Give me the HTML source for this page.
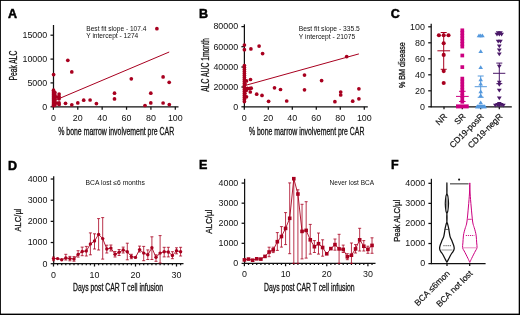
<!DOCTYPE html>
<html><head><meta charset="utf-8"><style>
html,body{margin:0;padding:0;background:#fff;}
svg{display:block;font-family:"Liberation Sans", sans-serif;will-change:transform;}
</style></head><body>
<svg width="520" height="315" viewBox="0 0 520 315">
<rect x="0" y="0" width="520" height="315" fill="#fff"/>
<text x="7.90" y="17.50" font-size="12.5" text-anchor="start" fill="#000" font-weight="bold" stroke="#000" stroke-width="0.5">A</text>
<line x1="53.50" y1="25.00" x2="53.50" y2="107.30" stroke="#111" stroke-width="1.25" />
<line x1="50.50" y1="35.20" x2="53.50" y2="35.20" stroke="#111" stroke-width="1.25" />
<text x="47.20" y="38.00" font-size="8.9" text-anchor="end" fill="#111" >15000</text>
<line x1="50.50" y1="59.10" x2="53.50" y2="59.10" stroke="#111" stroke-width="1.25" />
<text x="47.20" y="61.90" font-size="8.9" text-anchor="end" fill="#111" >10000</text>
<line x1="50.50" y1="82.90" x2="53.50" y2="82.90" stroke="#111" stroke-width="1.25" />
<text x="47.20" y="85.70" font-size="8.9" text-anchor="end" fill="#111" >5000</text>
<line x1="50.50" y1="106.80" x2="53.50" y2="106.80" stroke="#111" stroke-width="1.25" />
<text x="47.20" y="109.60" font-size="8.9" text-anchor="end" fill="#111" >0</text>
<line x1="53.00" y1="106.80" x2="178.50" y2="106.80" stroke="#111" stroke-width="1.25" />
<line x1="53.40" y1="106.80" x2="53.40" y2="109.80" stroke="#111" stroke-width="1.25" />
<text x="53.40" y="121.00" font-size="8.9" text-anchor="middle" fill="#111" >0</text>
<line x1="77.78" y1="106.80" x2="77.78" y2="109.80" stroke="#111" stroke-width="1.25" />
<text x="77.78" y="121.00" font-size="8.9" text-anchor="middle" fill="#111" >20</text>
<line x1="102.16" y1="106.80" x2="102.16" y2="109.80" stroke="#111" stroke-width="1.25" />
<text x="102.16" y="121.00" font-size="8.9" text-anchor="middle" fill="#111" >40</text>
<line x1="126.54" y1="106.80" x2="126.54" y2="109.80" stroke="#111" stroke-width="1.25" />
<text x="126.54" y="121.00" font-size="8.9" text-anchor="middle" fill="#111" >60</text>
<line x1="150.92" y1="106.80" x2="150.92" y2="109.80" stroke="#111" stroke-width="1.25" />
<text x="150.92" y="121.00" font-size="8.9" text-anchor="middle" fill="#111" >80</text>
<line x1="175.30" y1="106.80" x2="175.30" y2="109.80" stroke="#111" stroke-width="1.25" />
<text x="175.30" y="121.00" font-size="8.9" text-anchor="middle" fill="#111" >100</text>
<text x="0.00" y="0.00" font-size="10.2" text-anchor="middle" fill="#111" textLength="30.00" lengthAdjust="spacingAndGlyphs" transform="translate(16.60,65.50) rotate(-90)" stroke="#111" stroke-width="0.28">Peak ALC</text>
<text x="116.20" y="134.60" font-size="10" text-anchor="middle" fill="#111" textLength="116.00" lengthAdjust="spacingAndGlyphs" stroke="#111" stroke-width="0.28">% bone marrow involvement pre CAR</text>
<text x="86.30" y="30.60" font-size="6.6" text-anchor="start" fill="#111" >Best fit slope - 107.4</text>
<text x="86.30" y="38.40" font-size="6.6" text-anchor="start" fill="#111" >Y intercept - 1274</text>
<line x1="53.40" y1="101.00" x2="169.21" y2="52.00" stroke="#A8001F" stroke-width="1.0" />
<circle cx="156.90" cy="28.70" r="1.85" fill="#A8001F"/>
<circle cx="67.80" cy="60.30" r="1.85" fill="#A8001F"/>
<circle cx="71.80" cy="71.90" r="1.85" fill="#A8001F"/>
<circle cx="53.60" cy="74.60" r="1.85" fill="#A8001F"/>
<circle cx="131.30" cy="78.80" r="1.85" fill="#A8001F"/>
<circle cx="163.10" cy="76.90" r="1.85" fill="#A8001F"/>
<circle cx="169.20" cy="82.30" r="1.85" fill="#A8001F"/>
<circle cx="114.50" cy="93.20" r="1.85" fill="#A8001F"/>
<circle cx="114.50" cy="98.90" r="1.85" fill="#A8001F"/>
<circle cx="150.80" cy="93.20" r="1.85" fill="#A8001F"/>
<circle cx="150.80" cy="102.90" r="1.85" fill="#A8001F"/>
<circle cx="163.10" cy="103.00" r="1.85" fill="#A8001F"/>
<circle cx="169.30" cy="104.60" r="1.85" fill="#A8001F"/>
<circle cx="145.00" cy="105.50" r="1.85" fill="#A8001F"/>
<circle cx="96.40" cy="103.60" r="1.85" fill="#A8001F"/>
<circle cx="65.50" cy="103.30" r="1.85" fill="#A8001F"/>
<circle cx="71.80" cy="104.80" r="1.85" fill="#A8001F"/>
<circle cx="77.80" cy="102.90" r="1.85" fill="#A8001F"/>
<circle cx="83.70" cy="100.20" r="1.85" fill="#A8001F"/>
<circle cx="90.10" cy="100.00" r="1.85" fill="#A8001F"/>
<circle cx="53.50" cy="90.20" r="1.85" fill="#A8001F"/>
<circle cx="53.50" cy="92.00" r="1.85" fill="#A8001F"/>
<circle cx="53.50" cy="94.00" r="1.85" fill="#A8001F"/>
<circle cx="53.50" cy="96.00" r="1.85" fill="#A8001F"/>
<circle cx="53.50" cy="98.00" r="1.85" fill="#A8001F"/>
<circle cx="53.50" cy="100.00" r="1.85" fill="#A8001F"/>
<circle cx="53.50" cy="102.00" r="1.85" fill="#A8001F"/>
<circle cx="53.50" cy="104.00" r="1.85" fill="#A8001F"/>
<circle cx="53.50" cy="105.60" r="1.85" fill="#A8001F"/>
<circle cx="54.90" cy="92.50" r="1.85" fill="#A8001F"/>
<circle cx="54.90" cy="95.00" r="1.85" fill="#A8001F"/>
<circle cx="54.90" cy="97.50" r="1.85" fill="#A8001F"/>
<circle cx="54.90" cy="100.00" r="1.85" fill="#A8001F"/>
<circle cx="54.90" cy="102.50" r="1.85" fill="#A8001F"/>
<circle cx="54.90" cy="105.00" r="1.85" fill="#A8001F"/>
<circle cx="59.10" cy="94.10" r="1.85" fill="#A8001F"/>
<circle cx="59.10" cy="96.50" r="1.85" fill="#A8001F"/>
<circle cx="59.10" cy="98.80" r="1.85" fill="#A8001F"/>
<circle cx="59.10" cy="102.90" r="1.85" fill="#A8001F"/>
<circle cx="59.10" cy="104.50" r="1.85" fill="#A8001F"/>
<circle cx="56.80" cy="97.00" r="1.85" fill="#A8001F"/>
<circle cx="56.80" cy="103.00" r="1.85" fill="#A8001F"/>
<text x="198.90" y="17.50" font-size="12.5" text-anchor="start" fill="#000" font-weight="bold" stroke="#000" stroke-width="0.5">B</text>
<line x1="244.40" y1="24.30" x2="244.40" y2="107.30" stroke="#111" stroke-width="1.25" />
<line x1="241.40" y1="26.60" x2="244.40" y2="26.60" stroke="#111" stroke-width="1.25" />
<text x="238.10" y="29.40" font-size="8.9" text-anchor="end" fill="#111" >80000</text>
<line x1="241.40" y1="46.70" x2="244.40" y2="46.70" stroke="#111" stroke-width="1.25" />
<text x="238.10" y="49.50" font-size="8.9" text-anchor="end" fill="#111" >60000</text>
<line x1="241.40" y1="67.00" x2="244.40" y2="67.00" stroke="#111" stroke-width="1.25" />
<text x="238.10" y="69.80" font-size="8.9" text-anchor="end" fill="#111" >40000</text>
<line x1="241.40" y1="87.00" x2="244.40" y2="87.00" stroke="#111" stroke-width="1.25" />
<text x="238.10" y="89.80" font-size="8.9" text-anchor="end" fill="#111" >20000</text>
<line x1="241.40" y1="106.80" x2="244.40" y2="106.80" stroke="#111" stroke-width="1.25" />
<text x="238.10" y="109.60" font-size="8.9" text-anchor="end" fill="#111" >0</text>
<line x1="243.90" y1="106.80" x2="367.80" y2="106.80" stroke="#111" stroke-width="1.25" />
<line x1="244.30" y1="106.80" x2="244.30" y2="109.80" stroke="#111" stroke-width="1.25" />
<text x="244.30" y="121.00" font-size="8.9" text-anchor="middle" fill="#111" >0</text>
<line x1="268.30" y1="106.80" x2="268.30" y2="109.80" stroke="#111" stroke-width="1.25" />
<text x="268.30" y="121.00" font-size="8.9" text-anchor="middle" fill="#111" >20</text>
<line x1="292.30" y1="106.80" x2="292.30" y2="109.80" stroke="#111" stroke-width="1.25" />
<text x="292.30" y="121.00" font-size="8.9" text-anchor="middle" fill="#111" >40</text>
<line x1="316.30" y1="106.80" x2="316.30" y2="109.80" stroke="#111" stroke-width="1.25" />
<text x="316.30" y="121.00" font-size="8.9" text-anchor="middle" fill="#111" >60</text>
<line x1="340.30" y1="106.80" x2="340.30" y2="109.80" stroke="#111" stroke-width="1.25" />
<text x="340.30" y="121.00" font-size="8.9" text-anchor="middle" fill="#111" >80</text>
<line x1="364.30" y1="106.80" x2="364.30" y2="109.80" stroke="#111" stroke-width="1.25" />
<text x="364.30" y="121.00" font-size="8.9" text-anchor="middle" fill="#111" >100</text>
<text x="0.00" y="0.00" font-size="10.2" text-anchor="middle" fill="#111" textLength="53.30" lengthAdjust="spacingAndGlyphs" transform="translate(209.00,65.00) rotate(-90)" stroke="#111" stroke-width="0.28">ALC AUC 1month</text>
<text x="306.70" y="134.60" font-size="10" text-anchor="middle" fill="#111" textLength="115.50" lengthAdjust="spacingAndGlyphs" stroke="#111" stroke-width="0.28">% bone marrow involvement pre CAR</text>
<text x="298.80" y="30.90" font-size="6.7" text-anchor="start" fill="#111" >Best fit slope - 335.5</text>
<text x="298.80" y="38.80" font-size="6.7" text-anchor="start" fill="#111" >Y intercept - 21075</text>
<line x1="244.30" y1="85.70" x2="358.90" y2="53.90" stroke="#A8001F" stroke-width="1.0" />
<circle cx="244.40" cy="45.00" r="1.85" fill="#A8001F"/>
<circle cx="244.40" cy="49.70" r="1.85" fill="#A8001F"/>
<circle cx="250.90" cy="48.90" r="1.85" fill="#A8001F"/>
<circle cx="259.10" cy="46.10" r="1.85" fill="#A8001F"/>
<circle cx="262.60" cy="53.60" r="1.85" fill="#A8001F"/>
<circle cx="246.50" cy="80.90" r="1.85" fill="#A8001F"/>
<circle cx="250.50" cy="79.50" r="1.85" fill="#A8001F"/>
<circle cx="249.60" cy="88.50" r="1.85" fill="#A8001F"/>
<circle cx="250.30" cy="92.00" r="1.85" fill="#A8001F"/>
<circle cx="246.50" cy="96.80" r="1.85" fill="#A8001F"/>
<circle cx="256.70" cy="94.20" r="1.85" fill="#A8001F"/>
<circle cx="262.00" cy="95.40" r="1.85" fill="#A8001F"/>
<circle cx="268.60" cy="101.30" r="1.85" fill="#A8001F"/>
<circle cx="274.50" cy="87.80" r="1.85" fill="#A8001F"/>
<circle cx="280.50" cy="89.50" r="1.85" fill="#A8001F"/>
<circle cx="286.70" cy="101.00" r="1.85" fill="#A8001F"/>
<circle cx="304.50" cy="75.10" r="1.85" fill="#A8001F"/>
<circle cx="304.50" cy="89.80" r="1.85" fill="#A8001F"/>
<circle cx="321.60" cy="80.60" r="1.85" fill="#A8001F"/>
<circle cx="334.90" cy="101.70" r="1.85" fill="#A8001F"/>
<circle cx="340.70" cy="92.10" r="1.85" fill="#A8001F"/>
<circle cx="340.70" cy="95.00" r="1.85" fill="#A8001F"/>
<circle cx="352.70" cy="101.20" r="1.85" fill="#A8001F"/>
<circle cx="358.90" cy="88.80" r="1.85" fill="#A8001F"/>
<circle cx="358.90" cy="98.80" r="1.85" fill="#A8001F"/>
<circle cx="346.70" cy="56.60" r="1.85" fill="#A8001F"/>
<circle cx="244.40" cy="65.60" r="1.85" fill="#A8001F"/>
<circle cx="244.40" cy="67.60" r="1.85" fill="#A8001F"/>
<circle cx="244.40" cy="69.60" r="1.85" fill="#A8001F"/>
<circle cx="244.40" cy="71.60" r="1.85" fill="#A8001F"/>
<circle cx="244.40" cy="73.60" r="1.85" fill="#A8001F"/>
<circle cx="244.40" cy="75.60" r="1.85" fill="#A8001F"/>
<circle cx="244.40" cy="77.60" r="1.85" fill="#A8001F"/>
<circle cx="244.40" cy="79.60" r="1.85" fill="#A8001F"/>
<circle cx="244.40" cy="81.60" r="1.85" fill="#A8001F"/>
<circle cx="244.40" cy="83.60" r="1.85" fill="#A8001F"/>
<circle cx="244.40" cy="85.60" r="1.85" fill="#A8001F"/>
<circle cx="244.40" cy="87.60" r="1.85" fill="#A8001F"/>
<circle cx="244.40" cy="89.60" r="1.85" fill="#A8001F"/>
<circle cx="244.40" cy="91.60" r="1.85" fill="#A8001F"/>
<circle cx="244.40" cy="93.60" r="1.85" fill="#A8001F"/>
<circle cx="244.40" cy="95.60" r="1.85" fill="#A8001F"/>
<circle cx="244.40" cy="97.60" r="1.85" fill="#A8001F"/>
<circle cx="244.40" cy="99.60" r="1.85" fill="#A8001F"/>
<circle cx="244.40" cy="101.60" r="1.85" fill="#A8001F"/>
<circle cx="247.30" cy="88.30" r="1.85" fill="#A8001F"/>
<circle cx="249.40" cy="88.60" r="1.85" fill="#A8001F"/>
<circle cx="251.20" cy="88.20" r="1.85" fill="#A8001F"/>
<circle cx="246.20" cy="90.50" r="1.85" fill="#A8001F"/>
<circle cx="244.90" cy="93.50" r="1.85" fill="#A8001F"/>
<circle cx="245.00" cy="84.00" r="1.85" fill="#A8001F"/>
<text x="390.70" y="17.50" font-size="12.5" text-anchor="start" fill="#000" font-weight="bold" stroke="#000" stroke-width="0.5">C</text>
<line x1="431.20" y1="23.80" x2="431.20" y2="107.30" stroke="#111" stroke-width="1.25" />
<line x1="428.20" y1="26.80" x2="431.20" y2="26.80" stroke="#111" stroke-width="1.25" />
<text x="424.90" y="29.60" font-size="8.9" text-anchor="end" fill="#111" >100</text>
<line x1="428.20" y1="42.80" x2="431.20" y2="42.80" stroke="#111" stroke-width="1.25" />
<text x="424.90" y="45.60" font-size="8.9" text-anchor="end" fill="#111" >80</text>
<line x1="428.20" y1="58.80" x2="431.20" y2="58.80" stroke="#111" stroke-width="1.25" />
<text x="424.90" y="61.60" font-size="8.9" text-anchor="end" fill="#111" >60</text>
<line x1="428.20" y1="74.80" x2="431.20" y2="74.80" stroke="#111" stroke-width="1.25" />
<text x="424.90" y="77.60" font-size="8.9" text-anchor="end" fill="#111" >40</text>
<line x1="428.20" y1="90.80" x2="431.20" y2="90.80" stroke="#111" stroke-width="1.25" />
<text x="424.90" y="93.60" font-size="8.9" text-anchor="end" fill="#111" >20</text>
<line x1="428.20" y1="106.80" x2="431.20" y2="106.80" stroke="#111" stroke-width="1.25" />
<text x="424.90" y="109.60" font-size="8.9" text-anchor="end" fill="#111" >0</text>
<line x1="430.70" y1="106.80" x2="511.80" y2="106.80" stroke="#111" stroke-width="1.25" />
<line x1="444.00" y1="106.80" x2="444.00" y2="109.30" stroke="#111" stroke-width="1.25" />
<line x1="462.30" y1="106.80" x2="462.30" y2="109.30" stroke="#111" stroke-width="1.25" />
<line x1="480.70" y1="106.80" x2="480.70" y2="109.30" stroke="#111" stroke-width="1.25" />
<line x1="499.30" y1="106.80" x2="499.30" y2="109.30" stroke="#111" stroke-width="1.25" />
<text x="0.00" y="0.00" font-size="8.8" text-anchor="middle" fill="#111" textLength="45.80" lengthAdjust="spacingAndGlyphs" transform="translate(404.80,65.20) rotate(-90)" stroke="#111" stroke-width="0.28">% BM disease</text>
<text x="0.00" y="0.00" font-size="8.5" text-anchor="end" fill="#111" transform="translate(447.70,117.00) rotate(-45)" stroke="#111" stroke-width="0.18">NR</text>
<text x="0.00" y="0.00" font-size="8.5" text-anchor="end" fill="#111" transform="translate(466.00,117.00) rotate(-45)" stroke="#111" stroke-width="0.18">SR</text>
<text x="0.00" y="0.00" font-size="8.5" text-anchor="end" fill="#111" transform="translate(484.40,117.00) rotate(-45)" stroke="#111" stroke-width="0.18">CD19-posR</text>
<text x="0.00" y="0.00" font-size="8.5" text-anchor="end" fill="#111" transform="translate(503.00,117.00) rotate(-45)" stroke="#111" stroke-width="0.18">CD19-negR</text>
<line x1="443.70" y1="32.70" x2="443.70" y2="69.30" stroke="#A8001F" stroke-width="1.0" />
<line x1="440.70" y1="32.50" x2="446.70" y2="32.50" stroke="#A8001F" stroke-width="1.0" />
<line x1="440.70" y1="69.30" x2="446.70" y2="69.30" stroke="#A8001F" stroke-width="1.0" />
<line x1="437.40" y1="50.80" x2="450.10" y2="50.80" stroke="#A8001F" stroke-width="1.0" />
<circle cx="438.90" cy="35.20" r="2.05" fill="#A8001F"/>
<circle cx="443.70" cy="35.20" r="2.05" fill="#A8001F"/>
<circle cx="448.50" cy="35.20" r="2.05" fill="#A8001F"/>
<circle cx="443.70" cy="43.20" r="2.05" fill="#A8001F"/>
<circle cx="443.70" cy="54.90" r="2.05" fill="#A8001F"/>
<circle cx="443.70" cy="71.10" r="2.05" fill="#A8001F"/>
<circle cx="443.70" cy="83.00" r="2.05" fill="#A8001F"/>
<line x1="462.30" y1="91.30" x2="462.30" y2="101.50" stroke="#CC0080" stroke-width="1.0" />
<line x1="459.00" y1="91.30" x2="465.60" y2="91.30" stroke="#CC0080" stroke-width="1.0" />
<line x1="459.00" y1="101.50" x2="465.60" y2="101.50" stroke="#CC0080" stroke-width="1.0" />
<line x1="456.00" y1="96.40" x2="468.70" y2="96.40" stroke="#CC0080" stroke-width="1.0" />
<rect x="460.45" y="28.45" width="3.7" height="3.7" fill="#CC0080"/>
<rect x="460.45" y="31.15" width="3.7" height="3.7" fill="#CC0080"/>
<rect x="460.45" y="33.85" width="3.7" height="3.7" fill="#CC0080"/>
<rect x="460.45" y="36.55" width="3.7" height="3.7" fill="#CC0080"/>
<rect x="460.45" y="39.25" width="3.7" height="3.7" fill="#CC0080"/>
<rect x="460.45" y="41.95" width="3.7" height="3.7" fill="#CC0080"/>
<rect x="460.45" y="44.75" width="3.7" height="3.7" fill="#CC0080"/>
<rect x="460.45" y="53.65" width="3.7" height="3.7" fill="#CC0080"/>
<rect x="460.45" y="65.25" width="3.7" height="3.7" fill="#CC0080"/>
<rect x="460.45" y="76.75" width="3.7" height="3.7" fill="#CC0080"/>
<rect x="460.45" y="79.65" width="3.7" height="3.7" fill="#CC0080"/>
<rect x="460.45" y="82.55" width="3.7" height="3.7" fill="#CC0080"/>
<rect x="460.45" y="85.45" width="3.7" height="3.7" fill="#CC0080"/>
<rect x="460.45" y="88.35" width="3.7" height="3.7" fill="#CC0080"/>
<rect x="460.45" y="91.25" width="3.7" height="3.7" fill="#CC0080"/>
<rect x="460.45" y="94.15" width="3.7" height="3.7" fill="#CC0080"/>
<rect x="460.45" y="97.05" width="3.7" height="3.7" fill="#CC0080"/>
<rect x="460.45" y="99.95" width="3.7" height="3.7" fill="#CC0080"/>
<rect x="456.0" y="104.4" width="12.7" height="4.0" fill="#CC0080"/>
<line x1="480.70" y1="76.00" x2="480.70" y2="97.30" stroke="#5599DD" stroke-width="1.0" />
<line x1="477.70" y1="76.00" x2="483.70" y2="76.00" stroke="#5599DD" stroke-width="1.0" />
<line x1="477.70" y1="97.30" x2="483.70" y2="97.30" stroke="#5599DD" stroke-width="1.0" />
<line x1="474.70" y1="86.70" x2="486.90" y2="86.70" stroke="#5599DD" stroke-width="1.0" />
<path d="M476.70,37.14L481.30,37.14L479.00,33.46Z" fill="#5599DD"/>
<path d="M478.40,37.14L483.00,37.14L480.70,33.46Z" fill="#5599DD"/>
<path d="M480.10,37.14L484.70,37.14L482.40,33.46Z" fill="#5599DD"/>
<path d="M478.40,53.04L483.00,53.04L480.70,49.36Z" fill="#5599DD"/>
<path d="M478.40,68.94L483.00,68.94L480.70,65.26Z" fill="#5599DD"/>
<path d="M478.40,81.14L483.00,81.14L480.70,77.46Z" fill="#5599DD"/>
<path d="M478.40,85.54L483.00,85.54L480.70,81.86Z" fill="#5599DD"/>
<path d="M478.40,93.14L483.00,93.14L480.70,89.46Z" fill="#5599DD"/>
<path d="M478.40,97.14L483.00,97.14L480.70,93.46Z" fill="#5599DD"/>
<path d="M478.40,104.24L483.00,104.24L480.70,100.56Z" fill="#5599DD"/>
<path d="M475.3,108.3 L486.9,108.3 L485.0,104.8 L477.2,104.8 Z" fill="#5599DD"/>
<path d="M475.00,108.14L479.60,108.14L477.30,104.46Z" fill="#5599DD"/>
<path d="M478.40,108.14L483.00,108.14L480.70,104.46Z" fill="#5599DD"/>
<path d="M481.80,108.14L486.40,108.14L484.10,104.46Z" fill="#5599DD"/>
<line x1="499.30" y1="63.10" x2="499.30" y2="83.70" stroke="#4A1868" stroke-width="1.0" />
<line x1="496.30" y1="63.10" x2="502.30" y2="63.10" stroke="#4A1868" stroke-width="1.0" />
<line x1="496.30" y1="83.70" x2="502.30" y2="83.70" stroke="#4A1868" stroke-width="1.0" />
<line x1="493.00" y1="73.30" x2="505.30" y2="73.30" stroke="#4A1868" stroke-width="1.0" />
<path d="M494.60,32.78L499.40,32.78L497.00,36.62Z" fill="#4A1868"/>
<path d="M496.90,32.78L501.70,32.78L499.30,36.62Z" fill="#4A1868"/>
<path d="M499.20,32.78L504.00,32.78L501.60,36.62Z" fill="#4A1868"/>
<path d="M495.80,31.28L500.60,31.28L498.20,35.12Z" fill="#4A1868"/>
<path d="M498.00,31.28L502.80,31.28L500.40,35.12Z" fill="#4A1868"/>
<path d="M495.80,39.78L500.60,39.78L498.20,43.62Z" fill="#4A1868"/>
<path d="M498.00,39.78L502.80,39.78L500.40,43.62Z" fill="#4A1868"/>
<path d="M496.90,44.48L501.70,44.48L499.30,48.32Z" fill="#4A1868"/>
<path d="M496.90,48.48L501.70,48.48L499.30,52.32Z" fill="#4A1868"/>
<path d="M496.90,52.48L501.70,52.48L499.30,56.32Z" fill="#4A1868"/>
<path d="M496.90,64.68L501.70,64.68L499.30,68.52Z" fill="#4A1868"/>
<path d="M496.90,80.78L501.70,80.78L499.30,84.62Z" fill="#4A1868"/>
<path d="M496.90,82.98L501.70,82.98L499.30,86.82Z" fill="#4A1868"/>
<path d="M496.90,88.78L501.70,88.78L499.30,92.62Z" fill="#4A1868"/>
<path d="M496.90,96.38L501.70,96.38L499.30,100.22Z" fill="#4A1868"/>
<path d="M493.00,103.68L497.80,103.68L495.40,107.52Z" fill="#4A1868"/>
<path d="M495.10,102.88L499.90,102.88L497.50,106.72Z" fill="#4A1868"/>
<path d="M496.90,103.88L501.70,103.88L499.30,107.72Z" fill="#4A1868"/>
<path d="M498.80,102.88L503.60,102.88L501.20,106.72Z" fill="#4A1868"/>
<path d="M500.90,103.68L505.70,103.68L503.30,107.52Z" fill="#4A1868"/>
<path d="M496.90,101.88L501.70,101.88L499.30,105.72Z" fill="#4A1868"/>
<text x="7.90" y="169.50" font-size="12.5" text-anchor="start" fill="#000" font-weight="bold" stroke="#000" stroke-width="0.5">D</text>
<line x1="53.70" y1="176.20" x2="53.70" y2="264.20" stroke="#111" stroke-width="1.25" />
<line x1="50.70" y1="179.02" x2="53.70" y2="179.02" stroke="#111" stroke-width="1.25" />
<text x="47.40" y="181.82" font-size="8.9" text-anchor="end" fill="#111" >4000</text>
<line x1="50.70" y1="200.19" x2="53.70" y2="200.19" stroke="#111" stroke-width="1.25" />
<text x="47.40" y="202.99" font-size="8.9" text-anchor="end" fill="#111" >3000</text>
<line x1="50.70" y1="221.36" x2="53.70" y2="221.36" stroke="#111" stroke-width="1.25" />
<text x="47.40" y="224.16" font-size="8.9" text-anchor="end" fill="#111" >2000</text>
<line x1="50.70" y1="242.53" x2="53.70" y2="242.53" stroke="#111" stroke-width="1.25" />
<text x="47.40" y="245.33" font-size="8.9" text-anchor="end" fill="#111" >1000</text>
<line x1="50.70" y1="263.70" x2="53.70" y2="263.70" stroke="#111" stroke-width="1.25" />
<text x="47.40" y="266.50" font-size="8.9" text-anchor="end" fill="#111" >0</text>
<line x1="53.20" y1="263.70" x2="183.50" y2="263.70" stroke="#111" stroke-width="1.25" />
<line x1="53.50" y1="263.70" x2="53.50" y2="266.50" stroke="#111" stroke-width="1.25" />
<line x1="57.60" y1="263.70" x2="57.60" y2="265.30" stroke="#111" stroke-width="1.25" />
<line x1="61.70" y1="263.70" x2="61.70" y2="265.30" stroke="#111" stroke-width="1.25" />
<line x1="65.80" y1="263.70" x2="65.80" y2="265.30" stroke="#111" stroke-width="1.25" />
<line x1="69.90" y1="263.70" x2="69.90" y2="265.30" stroke="#111" stroke-width="1.25" />
<line x1="74.00" y1="263.70" x2="74.00" y2="265.30" stroke="#111" stroke-width="1.25" />
<line x1="78.10" y1="263.70" x2="78.10" y2="265.30" stroke="#111" stroke-width="1.25" />
<line x1="82.20" y1="263.70" x2="82.20" y2="265.30" stroke="#111" stroke-width="1.25" />
<line x1="86.30" y1="263.70" x2="86.30" y2="265.30" stroke="#111" stroke-width="1.25" />
<line x1="90.40" y1="263.70" x2="90.40" y2="265.30" stroke="#111" stroke-width="1.25" />
<line x1="94.50" y1="263.70" x2="94.50" y2="266.50" stroke="#111" stroke-width="1.25" />
<line x1="98.60" y1="263.70" x2="98.60" y2="265.30" stroke="#111" stroke-width="1.25" />
<line x1="102.70" y1="263.70" x2="102.70" y2="265.30" stroke="#111" stroke-width="1.25" />
<line x1="106.80" y1="263.70" x2="106.80" y2="265.30" stroke="#111" stroke-width="1.25" />
<line x1="110.90" y1="263.70" x2="110.90" y2="265.30" stroke="#111" stroke-width="1.25" />
<line x1="115.00" y1="263.70" x2="115.00" y2="265.30" stroke="#111" stroke-width="1.25" />
<line x1="119.10" y1="263.70" x2="119.10" y2="265.30" stroke="#111" stroke-width="1.25" />
<line x1="123.20" y1="263.70" x2="123.20" y2="265.30" stroke="#111" stroke-width="1.25" />
<line x1="127.30" y1="263.70" x2="127.30" y2="265.30" stroke="#111" stroke-width="1.25" />
<line x1="131.40" y1="263.70" x2="131.40" y2="265.30" stroke="#111" stroke-width="1.25" />
<line x1="135.50" y1="263.70" x2="135.50" y2="266.50" stroke="#111" stroke-width="1.25" />
<line x1="139.60" y1="263.70" x2="139.60" y2="265.30" stroke="#111" stroke-width="1.25" />
<line x1="143.70" y1="263.70" x2="143.70" y2="265.30" stroke="#111" stroke-width="1.25" />
<line x1="147.80" y1="263.70" x2="147.80" y2="265.30" stroke="#111" stroke-width="1.25" />
<line x1="151.90" y1="263.70" x2="151.90" y2="265.30" stroke="#111" stroke-width="1.25" />
<line x1="156.00" y1="263.70" x2="156.00" y2="265.30" stroke="#111" stroke-width="1.25" />
<line x1="160.10" y1="263.70" x2="160.10" y2="265.30" stroke="#111" stroke-width="1.25" />
<line x1="164.20" y1="263.70" x2="164.20" y2="265.30" stroke="#111" stroke-width="1.25" />
<line x1="168.30" y1="263.70" x2="168.30" y2="265.30" stroke="#111" stroke-width="1.25" />
<line x1="172.40" y1="263.70" x2="172.40" y2="265.30" stroke="#111" stroke-width="1.25" />
<line x1="176.50" y1="263.70" x2="176.50" y2="266.50" stroke="#111" stroke-width="1.25" />
<line x1="180.60" y1="263.70" x2="180.60" y2="265.30" stroke="#111" stroke-width="1.25" />
<text x="53.50" y="277.50" font-size="8.9" text-anchor="middle" fill="#111" >0</text>
<text x="94.50" y="277.50" font-size="8.9" text-anchor="middle" fill="#111" >10</text>
<text x="135.50" y="277.50" font-size="8.9" text-anchor="middle" fill="#111" >20</text>
<text x="176.50" y="277.50" font-size="8.9" text-anchor="middle" fill="#111" >30</text>
<text x="0.00" y="0.00" font-size="9.8" text-anchor="middle" fill="#111" textLength="23.10" lengthAdjust="spacingAndGlyphs" transform="translate(21.20,220.00) rotate(-90)" stroke="#111" stroke-width="0.28">ALC/µl</text>
<text x="118.00" y="291.00" font-size="10" text-anchor="middle" fill="#111" textLength="90.00" lengthAdjust="spacingAndGlyphs" stroke="#111" stroke-width="0.28">Days post CAR T cell infusion</text>
<text x="85.60" y="184.60" font-size="6.75" text-anchor="start" fill="#111" >BCA lost ≤6 months</text>
<polyline points="53.50,258.60 57.60,258.60 61.70,259.70 65.80,257.90 69.90,258.60 74.00,258.90 78.10,254.40 82.20,251.50 86.30,251.00 90.40,243.90 94.50,241.00 98.60,234.40 102.70,238.60 106.80,249.00 110.90,248.10 115.00,254.20 119.10,252.30 123.20,250.00 127.30,251.80 131.40,256.60 135.50,257.40 139.60,249.60 143.70,253.10 147.80,254.80 151.90,247.80 156.00,257.30 160.10,253.10 164.20,251.70 168.30,252.00 172.40,255.50 176.50,250.80 180.60,251.70" fill="none" stroke="#A8001F" stroke-width="0.9"/>
<line x1="53.50" y1="257.00" x2="53.50" y2="260.70" stroke="#A8001F" stroke-width="0.8" />
<line x1="52.00" y1="257.00" x2="55.00" y2="257.00" stroke="#A8001F" stroke-width="0.8" />
<line x1="52.00" y1="260.70" x2="55.00" y2="260.70" stroke="#A8001F" stroke-width="0.8" />
<line x1="65.80" y1="254.30" x2="65.80" y2="260.00" stroke="#A8001F" stroke-width="0.8" />
<line x1="64.30" y1="254.30" x2="67.30" y2="254.30" stroke="#A8001F" stroke-width="0.8" />
<line x1="64.30" y1="260.00" x2="67.30" y2="260.00" stroke="#A8001F" stroke-width="0.8" />
<line x1="69.90" y1="256.40" x2="69.90" y2="260.80" stroke="#A8001F" stroke-width="0.8" />
<line x1="68.40" y1="256.40" x2="71.40" y2="256.40" stroke="#A8001F" stroke-width="0.8" />
<line x1="68.40" y1="260.80" x2="71.40" y2="260.80" stroke="#A8001F" stroke-width="0.8" />
<line x1="74.00" y1="256.60" x2="74.00" y2="261.20" stroke="#A8001F" stroke-width="0.8" />
<line x1="72.50" y1="256.60" x2="75.50" y2="256.60" stroke="#A8001F" stroke-width="0.8" />
<line x1="72.50" y1="261.20" x2="75.50" y2="261.20" stroke="#A8001F" stroke-width="0.8" />
<line x1="78.10" y1="250.70" x2="78.10" y2="257.10" stroke="#A8001F" stroke-width="0.8" />
<line x1="76.60" y1="250.70" x2="79.60" y2="250.70" stroke="#A8001F" stroke-width="0.8" />
<line x1="76.60" y1="257.10" x2="79.60" y2="257.10" stroke="#A8001F" stroke-width="0.8" />
<line x1="82.20" y1="247.10" x2="82.20" y2="255.70" stroke="#A8001F" stroke-width="0.8" />
<line x1="80.70" y1="247.10" x2="83.70" y2="247.10" stroke="#A8001F" stroke-width="0.8" />
<line x1="80.70" y1="255.70" x2="83.70" y2="255.70" stroke="#A8001F" stroke-width="0.8" />
<line x1="86.30" y1="246.40" x2="86.30" y2="256.00" stroke="#A8001F" stroke-width="0.8" />
<line x1="84.80" y1="246.40" x2="87.80" y2="246.40" stroke="#A8001F" stroke-width="0.8" />
<line x1="84.80" y1="256.00" x2="87.80" y2="256.00" stroke="#A8001F" stroke-width="0.8" />
<line x1="90.40" y1="232.90" x2="90.40" y2="254.80" stroke="#A8001F" stroke-width="0.8" />
<line x1="88.90" y1="232.90" x2="91.90" y2="232.90" stroke="#A8001F" stroke-width="0.8" />
<line x1="88.90" y1="254.80" x2="91.90" y2="254.80" stroke="#A8001F" stroke-width="0.8" />
<line x1="94.50" y1="233.80" x2="94.50" y2="249.00" stroke="#A8001F" stroke-width="0.8" />
<line x1="93.00" y1="233.80" x2="96.00" y2="233.80" stroke="#A8001F" stroke-width="0.8" />
<line x1="93.00" y1="249.00" x2="96.00" y2="249.00" stroke="#A8001F" stroke-width="0.8" />
<line x1="98.60" y1="218.60" x2="98.60" y2="250.00" stroke="#A8001F" stroke-width="0.8" />
<line x1="97.10" y1="218.60" x2="100.10" y2="218.60" stroke="#A8001F" stroke-width="0.8" />
<line x1="97.10" y1="250.00" x2="100.10" y2="250.00" stroke="#A8001F" stroke-width="0.8" />
<line x1="102.70" y1="217.60" x2="102.70" y2="259.10" stroke="#A8001F" stroke-width="0.8" />
<line x1="101.20" y1="217.60" x2="104.20" y2="217.60" stroke="#A8001F" stroke-width="0.8" />
<line x1="101.20" y1="259.10" x2="104.20" y2="259.10" stroke="#A8001F" stroke-width="0.8" />
<line x1="106.80" y1="245.20" x2="106.80" y2="253.00" stroke="#A8001F" stroke-width="0.8" />
<line x1="105.30" y1="245.20" x2="108.30" y2="245.20" stroke="#A8001F" stroke-width="0.8" />
<line x1="105.30" y1="253.00" x2="108.30" y2="253.00" stroke="#A8001F" stroke-width="0.8" />
<line x1="110.90" y1="245.00" x2="110.90" y2="251.00" stroke="#A8001F" stroke-width="0.8" />
<line x1="109.40" y1="245.00" x2="112.40" y2="245.00" stroke="#A8001F" stroke-width="0.8" />
<line x1="109.40" y1="251.00" x2="112.40" y2="251.00" stroke="#A8001F" stroke-width="0.8" />
<line x1="115.00" y1="251.50" x2="115.00" y2="257.00" stroke="#A8001F" stroke-width="0.8" />
<line x1="113.50" y1="251.50" x2="116.50" y2="251.50" stroke="#A8001F" stroke-width="0.8" />
<line x1="113.50" y1="257.00" x2="116.50" y2="257.00" stroke="#A8001F" stroke-width="0.8" />
<line x1="119.10" y1="249.50" x2="119.10" y2="255.50" stroke="#A8001F" stroke-width="0.8" />
<line x1="117.60" y1="249.50" x2="120.60" y2="249.50" stroke="#A8001F" stroke-width="0.8" />
<line x1="117.60" y1="255.50" x2="120.60" y2="255.50" stroke="#A8001F" stroke-width="0.8" />
<line x1="123.20" y1="247.10" x2="123.20" y2="253.00" stroke="#A8001F" stroke-width="0.8" />
<line x1="121.70" y1="247.10" x2="124.70" y2="247.10" stroke="#A8001F" stroke-width="0.8" />
<line x1="121.70" y1="253.00" x2="124.70" y2="253.00" stroke="#A8001F" stroke-width="0.8" />
<line x1="127.30" y1="243.20" x2="127.30" y2="259.80" stroke="#A8001F" stroke-width="0.8" />
<line x1="125.80" y1="243.20" x2="128.80" y2="243.20" stroke="#A8001F" stroke-width="0.8" />
<line x1="125.80" y1="259.80" x2="128.80" y2="259.80" stroke="#A8001F" stroke-width="0.8" />
<line x1="131.40" y1="254.30" x2="131.40" y2="258.70" stroke="#A8001F" stroke-width="0.8" />
<line x1="129.90" y1="254.30" x2="132.90" y2="254.30" stroke="#A8001F" stroke-width="0.8" />
<line x1="129.90" y1="258.70" x2="132.90" y2="258.70" stroke="#A8001F" stroke-width="0.8" />
<line x1="139.60" y1="246.10" x2="139.60" y2="252.00" stroke="#A8001F" stroke-width="0.8" />
<line x1="138.10" y1="246.10" x2="141.10" y2="246.10" stroke="#A8001F" stroke-width="0.8" />
<line x1="138.10" y1="252.00" x2="141.10" y2="252.00" stroke="#A8001F" stroke-width="0.8" />
<line x1="143.70" y1="246.40" x2="143.70" y2="260.70" stroke="#A8001F" stroke-width="0.8" />
<line x1="142.20" y1="246.40" x2="145.20" y2="246.40" stroke="#A8001F" stroke-width="0.8" />
<line x1="142.20" y1="260.70" x2="145.20" y2="260.70" stroke="#A8001F" stroke-width="0.8" />
<line x1="147.80" y1="249.90" x2="147.80" y2="259.50" stroke="#A8001F" stroke-width="0.8" />
<line x1="146.30" y1="249.90" x2="149.30" y2="249.90" stroke="#A8001F" stroke-width="0.8" />
<line x1="146.30" y1="259.50" x2="149.30" y2="259.50" stroke="#A8001F" stroke-width="0.8" />
<line x1="151.90" y1="236.80" x2="151.90" y2="259.50" stroke="#A8001F" stroke-width="0.8" />
<line x1="150.40" y1="236.80" x2="153.40" y2="236.80" stroke="#A8001F" stroke-width="0.8" />
<line x1="150.40" y1="259.50" x2="153.40" y2="259.50" stroke="#A8001F" stroke-width="0.8" />
<line x1="156.00" y1="254.80" x2="156.00" y2="261.30" stroke="#A8001F" stroke-width="0.8" />
<line x1="154.50" y1="254.80" x2="157.50" y2="254.80" stroke="#A8001F" stroke-width="0.8" />
<line x1="154.50" y1="261.30" x2="157.50" y2="261.30" stroke="#A8001F" stroke-width="0.8" />
<line x1="160.10" y1="235.60" x2="160.10" y2="263.00" stroke="#A8001F" stroke-width="0.8" />
<line x1="158.60" y1="235.60" x2="161.60" y2="235.60" stroke="#A8001F" stroke-width="0.8" />
<line x1="158.60" y1="263.00" x2="161.60" y2="263.00" stroke="#A8001F" stroke-width="0.8" />
<line x1="164.20" y1="247.30" x2="164.20" y2="256.90" stroke="#A8001F" stroke-width="0.8" />
<line x1="162.70" y1="247.30" x2="165.70" y2="247.30" stroke="#A8001F" stroke-width="0.8" />
<line x1="162.70" y1="256.90" x2="165.70" y2="256.90" stroke="#A8001F" stroke-width="0.8" />
<line x1="168.30" y1="247.30" x2="168.30" y2="256.90" stroke="#A8001F" stroke-width="0.8" />
<line x1="166.80" y1="247.30" x2="169.80" y2="247.30" stroke="#A8001F" stroke-width="0.8" />
<line x1="166.80" y1="256.90" x2="169.80" y2="256.90" stroke="#A8001F" stroke-width="0.8" />
<line x1="172.40" y1="251.70" x2="172.40" y2="258.70" stroke="#A8001F" stroke-width="0.8" />
<line x1="170.90" y1="251.70" x2="173.90" y2="251.70" stroke="#A8001F" stroke-width="0.8" />
<line x1="170.90" y1="258.70" x2="173.90" y2="258.70" stroke="#A8001F" stroke-width="0.8" />
<line x1="176.50" y1="247.80" x2="176.50" y2="253.80" stroke="#A8001F" stroke-width="0.8" />
<line x1="175.00" y1="247.80" x2="178.00" y2="247.80" stroke="#A8001F" stroke-width="0.8" />
<line x1="175.00" y1="253.80" x2="178.00" y2="253.80" stroke="#A8001F" stroke-width="0.8" />
<line x1="180.60" y1="247.30" x2="180.60" y2="256.00" stroke="#A8001F" stroke-width="0.8" />
<line x1="179.10" y1="247.30" x2="182.10" y2="247.30" stroke="#A8001F" stroke-width="0.8" />
<line x1="179.10" y1="256.00" x2="182.10" y2="256.00" stroke="#A8001F" stroke-width="0.8" />
<circle cx="53.50" cy="258.60" r="1.7" fill="#A8001F"/>
<circle cx="57.60" cy="258.60" r="1.7" fill="#A8001F"/>
<circle cx="61.70" cy="259.70" r="1.7" fill="#A8001F"/>
<circle cx="65.80" cy="257.90" r="1.7" fill="#A8001F"/>
<circle cx="69.90" cy="258.60" r="1.7" fill="#A8001F"/>
<circle cx="74.00" cy="258.90" r="1.7" fill="#A8001F"/>
<circle cx="78.10" cy="254.40" r="1.7" fill="#A8001F"/>
<circle cx="82.20" cy="251.50" r="1.7" fill="#A8001F"/>
<circle cx="86.30" cy="251.00" r="1.7" fill="#A8001F"/>
<circle cx="90.40" cy="243.90" r="1.7" fill="#A8001F"/>
<circle cx="94.50" cy="241.00" r="1.7" fill="#A8001F"/>
<circle cx="98.60" cy="234.40" r="1.7" fill="#A8001F"/>
<circle cx="102.70" cy="238.60" r="1.7" fill="#A8001F"/>
<circle cx="106.80" cy="249.00" r="1.7" fill="#A8001F"/>
<circle cx="110.90" cy="248.10" r="1.7" fill="#A8001F"/>
<circle cx="115.00" cy="254.20" r="1.7" fill="#A8001F"/>
<circle cx="119.10" cy="252.30" r="1.7" fill="#A8001F"/>
<circle cx="123.20" cy="250.00" r="1.7" fill="#A8001F"/>
<circle cx="127.30" cy="251.80" r="1.7" fill="#A8001F"/>
<circle cx="131.40" cy="256.60" r="1.7" fill="#A8001F"/>
<circle cx="135.50" cy="257.40" r="1.7" fill="#A8001F"/>
<circle cx="139.60" cy="249.60" r="1.7" fill="#A8001F"/>
<circle cx="143.70" cy="253.10" r="1.7" fill="#A8001F"/>
<circle cx="147.80" cy="254.80" r="1.7" fill="#A8001F"/>
<circle cx="151.90" cy="247.80" r="1.7" fill="#A8001F"/>
<circle cx="156.00" cy="257.30" r="1.7" fill="#A8001F"/>
<circle cx="160.10" cy="253.10" r="1.7" fill="#A8001F"/>
<circle cx="164.20" cy="251.70" r="1.7" fill="#A8001F"/>
<circle cx="168.30" cy="252.00" r="1.7" fill="#A8001F"/>
<circle cx="172.40" cy="255.50" r="1.7" fill="#A8001F"/>
<circle cx="176.50" cy="250.80" r="1.7" fill="#A8001F"/>
<circle cx="180.60" cy="251.70" r="1.7" fill="#A8001F"/>
<text x="198.90" y="169.30" font-size="12.5" text-anchor="start" fill="#000" font-weight="bold" stroke="#000" stroke-width="0.5">E</text>
<line x1="244.60" y1="178.80" x2="244.60" y2="263.90" stroke="#111" stroke-width="1.25" />
<line x1="241.60" y1="183.10" x2="244.60" y2="183.10" stroke="#111" stroke-width="1.25" />
<text x="238.30" y="185.90" font-size="8.9" text-anchor="end" fill="#111" >4000</text>
<line x1="241.60" y1="203.17" x2="244.60" y2="203.17" stroke="#111" stroke-width="1.25" />
<text x="238.30" y="205.97" font-size="8.9" text-anchor="end" fill="#111" >3000</text>
<line x1="241.60" y1="223.25" x2="244.60" y2="223.25" stroke="#111" stroke-width="1.25" />
<text x="238.30" y="226.05" font-size="8.9" text-anchor="end" fill="#111" >2000</text>
<line x1="241.60" y1="243.32" x2="244.60" y2="243.32" stroke="#111" stroke-width="1.25" />
<text x="238.30" y="246.12" font-size="8.9" text-anchor="end" fill="#111" >1000</text>
<line x1="241.60" y1="263.40" x2="244.60" y2="263.40" stroke="#111" stroke-width="1.25" />
<text x="238.30" y="266.20" font-size="8.9" text-anchor="end" fill="#111" >0</text>
<line x1="244.10" y1="263.40" x2="375.50" y2="263.40" stroke="#111" stroke-width="1.25" />
<line x1="244.40" y1="263.40" x2="244.40" y2="266.20" stroke="#111" stroke-width="1.25" />
<line x1="248.52" y1="263.40" x2="248.52" y2="265.00" stroke="#111" stroke-width="1.25" />
<line x1="252.63" y1="263.40" x2="252.63" y2="265.00" stroke="#111" stroke-width="1.25" />
<line x1="256.75" y1="263.40" x2="256.75" y2="265.00" stroke="#111" stroke-width="1.25" />
<line x1="260.87" y1="263.40" x2="260.87" y2="265.00" stroke="#111" stroke-width="1.25" />
<line x1="264.99" y1="263.40" x2="264.99" y2="265.00" stroke="#111" stroke-width="1.25" />
<line x1="269.10" y1="263.40" x2="269.10" y2="265.00" stroke="#111" stroke-width="1.25" />
<line x1="273.22" y1="263.40" x2="273.22" y2="265.00" stroke="#111" stroke-width="1.25" />
<line x1="277.34" y1="263.40" x2="277.34" y2="265.00" stroke="#111" stroke-width="1.25" />
<line x1="281.45" y1="263.40" x2="281.45" y2="265.00" stroke="#111" stroke-width="1.25" />
<line x1="285.57" y1="263.40" x2="285.57" y2="266.20" stroke="#111" stroke-width="1.25" />
<line x1="289.69" y1="263.40" x2="289.69" y2="265.00" stroke="#111" stroke-width="1.25" />
<line x1="293.80" y1="263.40" x2="293.80" y2="265.00" stroke="#111" stroke-width="1.25" />
<line x1="297.92" y1="263.40" x2="297.92" y2="265.00" stroke="#111" stroke-width="1.25" />
<line x1="302.04" y1="263.40" x2="302.04" y2="265.00" stroke="#111" stroke-width="1.25" />
<line x1="306.16" y1="263.40" x2="306.16" y2="265.00" stroke="#111" stroke-width="1.25" />
<line x1="310.27" y1="263.40" x2="310.27" y2="265.00" stroke="#111" stroke-width="1.25" />
<line x1="314.39" y1="263.40" x2="314.39" y2="265.00" stroke="#111" stroke-width="1.25" />
<line x1="318.51" y1="263.40" x2="318.51" y2="265.00" stroke="#111" stroke-width="1.25" />
<line x1="322.62" y1="263.40" x2="322.62" y2="265.00" stroke="#111" stroke-width="1.25" />
<line x1="326.74" y1="263.40" x2="326.74" y2="266.20" stroke="#111" stroke-width="1.25" />
<line x1="330.86" y1="263.40" x2="330.86" y2="265.00" stroke="#111" stroke-width="1.25" />
<line x1="334.97" y1="263.40" x2="334.97" y2="265.00" stroke="#111" stroke-width="1.25" />
<line x1="339.09" y1="263.40" x2="339.09" y2="265.00" stroke="#111" stroke-width="1.25" />
<line x1="343.21" y1="263.40" x2="343.21" y2="265.00" stroke="#111" stroke-width="1.25" />
<line x1="347.32" y1="263.40" x2="347.32" y2="265.00" stroke="#111" stroke-width="1.25" />
<line x1="351.44" y1="263.40" x2="351.44" y2="265.00" stroke="#111" stroke-width="1.25" />
<line x1="355.56" y1="263.40" x2="355.56" y2="265.00" stroke="#111" stroke-width="1.25" />
<line x1="359.68" y1="263.40" x2="359.68" y2="265.00" stroke="#111" stroke-width="1.25" />
<line x1="363.79" y1="263.40" x2="363.79" y2="265.00" stroke="#111" stroke-width="1.25" />
<line x1="367.91" y1="263.40" x2="367.91" y2="266.20" stroke="#111" stroke-width="1.25" />
<line x1="372.03" y1="263.40" x2="372.03" y2="265.00" stroke="#111" stroke-width="1.25" />
<text x="244.40" y="277.30" font-size="8.9" text-anchor="middle" fill="#111" >0</text>
<text x="285.57" y="277.30" font-size="8.9" text-anchor="middle" fill="#111" >10</text>
<text x="326.74" y="277.30" font-size="8.9" text-anchor="middle" fill="#111" >20</text>
<text x="367.91" y="277.30" font-size="8.9" text-anchor="middle" fill="#111" >30</text>
<text x="0.00" y="0.00" font-size="9.8" text-anchor="middle" fill="#111" textLength="24.10" lengthAdjust="spacingAndGlyphs" transform="translate(212.20,221.80) rotate(-90)" stroke="#111" stroke-width="0.28">ALC/µl</text>
<text x="309.30" y="291.00" font-size="10" text-anchor="middle" fill="#111" textLength="90.50" lengthAdjust="spacingAndGlyphs" stroke="#111" stroke-width="0.28">Days post CAR T cell infusion</text>
<text x="329.60" y="184.80" font-size="6.5" text-anchor="start" fill="#111" >Never lost BCA</text>
<polyline points="244.40,259.90 248.52,259.10 252.63,260.20 256.75,258.80 260.87,259.10 264.99,256.40 269.10,252.00 273.22,249.90 277.34,241.70 281.45,236.50 285.57,228.40 289.69,218.30 293.80,178.70 297.92,194.00 302.04,231.40 306.16,230.40 310.27,239.80 314.39,246.70 318.51,243.70 322.62,247.50 326.74,253.80 330.86,248.60 334.97,244.60 339.09,248.90 343.21,249.40 347.32,256.80 351.44,255.20 355.56,248.90 359.68,239.80 363.79,246.20 367.91,249.40 372.03,245.40" fill="none" stroke="#A8001F" stroke-width="0.9"/>
<line x1="269.10" y1="247.20" x2="269.10" y2="256.70" stroke="#A8001F" stroke-width="0.8" />
<line x1="267.60" y1="247.20" x2="270.60" y2="247.20" stroke="#A8001F" stroke-width="0.8" />
<line x1="267.60" y1="256.70" x2="270.60" y2="256.70" stroke="#A8001F" stroke-width="0.8" />
<line x1="273.22" y1="247.20" x2="273.22" y2="252.60" stroke="#A8001F" stroke-width="0.8" />
<line x1="271.72" y1="247.20" x2="274.72" y2="247.20" stroke="#A8001F" stroke-width="0.8" />
<line x1="271.72" y1="252.60" x2="274.72" y2="252.60" stroke="#A8001F" stroke-width="0.8" />
<line x1="277.34" y1="232.60" x2="277.34" y2="250.40" stroke="#A8001F" stroke-width="0.8" />
<line x1="275.84" y1="232.60" x2="278.84" y2="232.60" stroke="#A8001F" stroke-width="0.8" />
<line x1="275.84" y1="250.40" x2="278.84" y2="250.40" stroke="#A8001F" stroke-width="0.8" />
<line x1="281.45" y1="226.60" x2="281.45" y2="247.10" stroke="#A8001F" stroke-width="0.8" />
<line x1="279.95" y1="226.60" x2="282.95" y2="226.60" stroke="#A8001F" stroke-width="0.8" />
<line x1="279.95" y1="247.10" x2="282.95" y2="247.10" stroke="#A8001F" stroke-width="0.8" />
<line x1="285.57" y1="212.60" x2="285.57" y2="244.60" stroke="#A8001F" stroke-width="0.8" />
<line x1="284.07" y1="212.60" x2="287.07" y2="212.60" stroke="#A8001F" stroke-width="0.8" />
<line x1="284.07" y1="244.60" x2="287.07" y2="244.60" stroke="#A8001F" stroke-width="0.8" />
<line x1="289.69" y1="182.90" x2="289.69" y2="253.70" stroke="#A8001F" stroke-width="0.8" />
<line x1="288.19" y1="182.90" x2="291.19" y2="182.90" stroke="#A8001F" stroke-width="0.8" />
<line x1="288.19" y1="253.70" x2="291.19" y2="253.70" stroke="#A8001F" stroke-width="0.8" />
<line x1="293.80" y1="178.70" x2="293.80" y2="263.40" stroke="#A8001F" stroke-width="0.8" />
<line x1="292.30" y1="263.40" x2="295.30" y2="263.40" stroke="#A8001F" stroke-width="0.8" />
<line x1="297.92" y1="189.80" x2="297.92" y2="263.40" stroke="#A8001F" stroke-width="0.8" />
<line x1="296.42" y1="189.80" x2="299.42" y2="189.80" stroke="#A8001F" stroke-width="0.8" />
<line x1="296.42" y1="263.40" x2="299.42" y2="263.40" stroke="#A8001F" stroke-width="0.8" />
<line x1="302.04" y1="204.30" x2="302.04" y2="258.90" stroke="#A8001F" stroke-width="0.8" />
<line x1="300.54" y1="204.30" x2="303.54" y2="204.30" stroke="#A8001F" stroke-width="0.8" />
<line x1="300.54" y1="258.90" x2="303.54" y2="258.90" stroke="#A8001F" stroke-width="0.8" />
<line x1="306.16" y1="201.70" x2="306.16" y2="258.10" stroke="#A8001F" stroke-width="0.8" />
<line x1="304.66" y1="201.70" x2="307.66" y2="201.70" stroke="#A8001F" stroke-width="0.8" />
<line x1="304.66" y1="258.10" x2="307.66" y2="258.10" stroke="#A8001F" stroke-width="0.8" />
<line x1="310.27" y1="224.40" x2="310.27" y2="254.10" stroke="#A8001F" stroke-width="0.8" />
<line x1="308.77" y1="224.40" x2="311.77" y2="224.40" stroke="#A8001F" stroke-width="0.8" />
<line x1="308.77" y1="254.10" x2="311.77" y2="254.10" stroke="#A8001F" stroke-width="0.8" />
<line x1="314.39" y1="240.60" x2="314.39" y2="252.50" stroke="#A8001F" stroke-width="0.8" />
<line x1="312.89" y1="240.60" x2="315.89" y2="240.60" stroke="#A8001F" stroke-width="0.8" />
<line x1="312.89" y1="252.50" x2="315.89" y2="252.50" stroke="#A8001F" stroke-width="0.8" />
<line x1="318.51" y1="233.00" x2="318.51" y2="254.10" stroke="#A8001F" stroke-width="0.8" />
<line x1="317.01" y1="233.00" x2="320.01" y2="233.00" stroke="#A8001F" stroke-width="0.8" />
<line x1="317.01" y1="254.10" x2="320.01" y2="254.10" stroke="#A8001F" stroke-width="0.8" />
<line x1="322.62" y1="239.80" x2="322.62" y2="256.20" stroke="#A8001F" stroke-width="0.8" />
<line x1="321.12" y1="239.80" x2="324.12" y2="239.80" stroke="#A8001F" stroke-width="0.8" />
<line x1="321.12" y1="256.20" x2="324.12" y2="256.20" stroke="#A8001F" stroke-width="0.8" />
<line x1="334.97" y1="239.00" x2="334.97" y2="250.20" stroke="#A8001F" stroke-width="0.8" />
<line x1="333.47" y1="239.00" x2="336.47" y2="239.00" stroke="#A8001F" stroke-width="0.8" />
<line x1="333.47" y1="250.20" x2="336.47" y2="250.20" stroke="#A8001F" stroke-width="0.8" />
<line x1="339.09" y1="234.30" x2="339.09" y2="263.40" stroke="#A8001F" stroke-width="0.8" />
<line x1="337.59" y1="234.30" x2="340.59" y2="234.30" stroke="#A8001F" stroke-width="0.8" />
<line x1="337.59" y1="263.40" x2="340.59" y2="263.40" stroke="#A8001F" stroke-width="0.8" />
<line x1="343.21" y1="245.10" x2="343.21" y2="252.50" stroke="#A8001F" stroke-width="0.8" />
<line x1="341.71" y1="245.10" x2="344.71" y2="245.10" stroke="#A8001F" stroke-width="0.8" />
<line x1="341.71" y1="252.50" x2="344.71" y2="252.50" stroke="#A8001F" stroke-width="0.8" />
<line x1="347.32" y1="253.70" x2="347.32" y2="259.70" stroke="#A8001F" stroke-width="0.8" />
<line x1="345.82" y1="253.70" x2="348.82" y2="253.70" stroke="#A8001F" stroke-width="0.8" />
<line x1="345.82" y1="259.70" x2="348.82" y2="259.70" stroke="#A8001F" stroke-width="0.8" />
<line x1="351.44" y1="243.00" x2="351.44" y2="263.40" stroke="#A8001F" stroke-width="0.8" />
<line x1="349.94" y1="243.00" x2="352.94" y2="243.00" stroke="#A8001F" stroke-width="0.8" />
<line x1="349.94" y1="263.40" x2="352.94" y2="263.40" stroke="#A8001F" stroke-width="0.8" />
<line x1="355.56" y1="244.60" x2="355.56" y2="253.00" stroke="#A8001F" stroke-width="0.8" />
<line x1="354.06" y1="244.60" x2="357.06" y2="244.60" stroke="#A8001F" stroke-width="0.8" />
<line x1="354.06" y1="253.00" x2="357.06" y2="253.00" stroke="#A8001F" stroke-width="0.8" />
<line x1="359.68" y1="228.30" x2="359.68" y2="251.00" stroke="#A8001F" stroke-width="0.8" />
<line x1="358.18" y1="228.30" x2="361.18" y2="228.30" stroke="#A8001F" stroke-width="0.8" />
<line x1="358.18" y1="251.00" x2="361.18" y2="251.00" stroke="#A8001F" stroke-width="0.8" />
<line x1="363.79" y1="240.60" x2="363.79" y2="251.00" stroke="#A8001F" stroke-width="0.8" />
<line x1="362.29" y1="240.60" x2="365.29" y2="240.60" stroke="#A8001F" stroke-width="0.8" />
<line x1="362.29" y1="251.00" x2="365.29" y2="251.00" stroke="#A8001F" stroke-width="0.8" />
<line x1="367.91" y1="246.20" x2="367.91" y2="253.30" stroke="#A8001F" stroke-width="0.8" />
<line x1="366.41" y1="246.20" x2="369.41" y2="246.20" stroke="#A8001F" stroke-width="0.8" />
<line x1="366.41" y1="253.30" x2="369.41" y2="253.30" stroke="#A8001F" stroke-width="0.8" />
<line x1="372.03" y1="237.80" x2="372.03" y2="253.30" stroke="#A8001F" stroke-width="0.8" />
<line x1="370.53" y1="237.80" x2="373.53" y2="237.80" stroke="#A8001F" stroke-width="0.8" />
<line x1="370.53" y1="253.30" x2="373.53" y2="253.30" stroke="#A8001F" stroke-width="0.8" />
<rect x="242.60" y="258.10" width="3.6" height="3.6" fill="#A8001F"/>
<rect x="246.72" y="257.30" width="3.6" height="3.6" fill="#A8001F"/>
<rect x="250.83" y="258.40" width="3.6" height="3.6" fill="#A8001F"/>
<rect x="254.95" y="257.00" width="3.6" height="3.6" fill="#A8001F"/>
<rect x="259.07" y="257.30" width="3.6" height="3.6" fill="#A8001F"/>
<rect x="263.19" y="254.60" width="3.6" height="3.6" fill="#A8001F"/>
<rect x="267.30" y="250.20" width="3.6" height="3.6" fill="#A8001F"/>
<rect x="271.42" y="248.10" width="3.6" height="3.6" fill="#A8001F"/>
<rect x="275.54" y="239.90" width="3.6" height="3.6" fill="#A8001F"/>
<rect x="279.65" y="234.70" width="3.6" height="3.6" fill="#A8001F"/>
<rect x="283.77" y="226.60" width="3.6" height="3.6" fill="#A8001F"/>
<rect x="287.89" y="216.50" width="3.6" height="3.6" fill="#A8001F"/>
<rect x="292.00" y="176.90" width="3.6" height="3.6" fill="#A8001F"/>
<rect x="296.12" y="192.20" width="3.6" height="3.6" fill="#A8001F"/>
<rect x="300.24" y="229.60" width="3.6" height="3.6" fill="#A8001F"/>
<rect x="304.36" y="228.60" width="3.6" height="3.6" fill="#A8001F"/>
<rect x="308.47" y="238.00" width="3.6" height="3.6" fill="#A8001F"/>
<rect x="312.59" y="244.90" width="3.6" height="3.6" fill="#A8001F"/>
<rect x="316.71" y="241.90" width="3.6" height="3.6" fill="#A8001F"/>
<rect x="320.82" y="245.70" width="3.6" height="3.6" fill="#A8001F"/>
<rect x="324.94" y="252.00" width="3.6" height="3.6" fill="#A8001F"/>
<rect x="329.06" y="246.80" width="3.6" height="3.6" fill="#A8001F"/>
<rect x="333.17" y="242.80" width="3.6" height="3.6" fill="#A8001F"/>
<rect x="337.29" y="247.10" width="3.6" height="3.6" fill="#A8001F"/>
<rect x="341.41" y="247.60" width="3.6" height="3.6" fill="#A8001F"/>
<rect x="345.52" y="255.00" width="3.6" height="3.6" fill="#A8001F"/>
<rect x="349.64" y="253.40" width="3.6" height="3.6" fill="#A8001F"/>
<rect x="353.76" y="247.10" width="3.6" height="3.6" fill="#A8001F"/>
<rect x="357.88" y="238.00" width="3.6" height="3.6" fill="#A8001F"/>
<rect x="361.99" y="244.40" width="3.6" height="3.6" fill="#A8001F"/>
<rect x="366.11" y="247.60" width="3.6" height="3.6" fill="#A8001F"/>
<rect x="370.23" y="243.60" width="3.6" height="3.6" fill="#A8001F"/>
<text x="390.90" y="169.30" font-size="12.5" text-anchor="start" fill="#000" font-weight="bold" stroke="#000" stroke-width="0.5">F</text>
<line x1="431.40" y1="178.80" x2="431.40" y2="264.10" stroke="#111" stroke-width="1.25" />
<line x1="428.40" y1="183.32" x2="431.40" y2="183.32" stroke="#111" stroke-width="1.25" />
<text x="425.10" y="186.12" font-size="8.9" text-anchor="end" fill="#111" >4000</text>
<line x1="428.40" y1="203.39" x2="431.40" y2="203.39" stroke="#111" stroke-width="1.25" />
<text x="425.10" y="206.19" font-size="8.9" text-anchor="end" fill="#111" >3000</text>
<line x1="428.40" y1="223.46" x2="431.40" y2="223.46" stroke="#111" stroke-width="1.25" />
<text x="425.10" y="226.26" font-size="8.9" text-anchor="end" fill="#111" >2000</text>
<line x1="428.40" y1="243.53" x2="431.40" y2="243.53" stroke="#111" stroke-width="1.25" />
<text x="425.10" y="246.33" font-size="8.9" text-anchor="end" fill="#111" >1000</text>
<line x1="428.40" y1="263.60" x2="431.40" y2="263.60" stroke="#111" stroke-width="1.25" />
<text x="425.10" y="266.40" font-size="8.9" text-anchor="end" fill="#111" >0</text>
<line x1="430.90" y1="263.60" x2="485.60" y2="263.60" stroke="#111" stroke-width="1.25" />
<line x1="447.00" y1="263.60" x2="447.00" y2="266.10" stroke="#111" stroke-width="1.25" />
<line x1="469.70" y1="263.60" x2="469.70" y2="266.10" stroke="#111" stroke-width="1.25" />
<text x="0.00" y="0.00" font-size="9.0" text-anchor="middle" fill="#111" textLength="42.00" lengthAdjust="spacingAndGlyphs" transform="translate(399.70,220.80) rotate(-90)" stroke="#111" stroke-width="0.28">Peak ALC/µl</text>
<text x="0.00" y="0.00" font-size="8.6" text-anchor="end" fill="#111" transform="translate(450.40,274.00) rotate(-45)" stroke="#111" stroke-width="0.18">BCA ≤6mon</text>
<text x="0.00" y="0.00" font-size="8.6" text-anchor="end" fill="#111" transform="translate(473.10,274.00) rotate(-45)" stroke="#111" stroke-width="0.18">BCA not lost</text>
<line x1="450.00" y1="183.80" x2="468.60" y2="183.80" stroke="#666" stroke-width="1.4" />
<circle cx="459.10" cy="179.60" r="1.05" fill="#111"/>
<path d="M446.90,182.90 C446.90,184.58 446.75,190.82 446.90,193.00 C447.05,195.18 447.53,194.25 447.80,196.00 C448.07,197.75 448.50,201.00 448.50,203.50 C448.50,206.00 448.07,209.25 447.80,211.00 C447.53,212.75 447.05,212.25 446.90,214.00 C446.75,215.75 446.78,219.83 446.90,221.50 C447.02,223.17 447.30,222.80 447.60,224.00 C447.90,225.20 448.30,226.65 448.70,228.70 C449.10,230.75 449.47,234.28 450.00,236.30 C450.53,238.32 451.28,239.27 451.90,240.80 C452.52,242.33 453.32,244.20 453.70,245.50 C454.08,246.80 454.30,247.60 454.20,248.60 C454.10,249.60 453.63,250.52 453.10,251.50 C452.57,252.48 451.70,253.33 451.00,254.50 C450.30,255.67 449.58,257.20 448.90,258.50 C448.22,259.80 447.23,261.67 446.90,262.30 L446.90,262.30 C446.57,261.67 445.58,259.80 444.90,258.50 C444.22,257.20 443.50,255.67 442.80,254.50 C442.10,253.33 441.23,252.48 440.70,251.50 C440.17,250.52 439.70,249.60 439.60,248.60 C439.50,247.60 439.72,246.80 440.10,245.50 C440.48,244.20 441.28,242.33 441.90,240.80 C442.52,239.27 443.27,238.32 443.80,236.30 C444.33,234.28 444.70,230.75 445.10,228.70 C445.50,226.65 445.90,225.20 446.20,224.00 C446.50,222.80 446.78,223.17 446.90,221.50 C447.02,219.83 447.05,215.75 446.90,214.00 C446.75,212.25 446.27,212.75 446.00,211.00 C445.73,209.25 445.30,206.00 445.30,203.50 C445.30,201.00 445.73,197.75 446.00,196.00 C446.27,194.25 446.75,195.18 446.90,193.00 C447.05,190.82 446.90,184.58 446.90,182.90 Z" fill="none" stroke="#111" stroke-width="1.25" stroke-linejoin="round"/>
<ellipse cx="446.9" cy="203.5" rx="1.0" ry="7.5" fill="#999"/>
<line x1="444.60" y1="229.40" x2="449.20" y2="229.40" stroke="#333" stroke-width="0.8" />
<line x1="443.40" y1="245.70" x2="451.00" y2="245.70" stroke="#333" stroke-width="0.9" stroke-dasharray="1.2,0.9"/>
<line x1="441.40" y1="250.00" x2="452.50" y2="250.00" stroke="#999" stroke-width="1.0" />
<path d="M469.80,182.90 C469.85,184.58 469.87,188.98 470.10,193.00 C470.33,197.02 470.77,202.17 471.20,207.00 C471.63,211.83 472.20,218.57 472.70,222.00 C473.20,225.43 473.75,225.97 474.20,227.60 C474.65,229.23 475.07,230.42 475.40,231.80 C475.73,233.18 475.98,234.05 476.20,235.90 C476.42,237.75 476.57,240.92 476.70,242.90 C476.83,244.88 477.22,246.45 477.00,247.80 C476.78,249.15 475.93,249.95 475.40,251.00 C474.87,252.05 474.43,252.85 473.80,254.10 C473.17,255.35 472.27,257.12 471.60,258.50 C470.93,259.88 470.10,261.75 469.80,262.40 L469.80,262.40 C469.50,261.75 468.67,259.88 468.00,258.50 C467.33,257.12 466.43,255.35 465.80,254.10 C465.17,252.85 464.73,252.05 464.20,251.00 C463.67,249.95 462.82,249.15 462.60,247.80 C462.38,246.45 462.77,244.88 462.90,242.90 C463.03,240.92 463.18,237.75 463.40,235.90 C463.62,234.05 463.87,233.18 464.20,231.80 C464.53,230.42 464.95,229.23 465.40,227.60 C465.85,225.97 466.40,225.43 466.90,222.00 C467.40,218.57 467.97,211.83 468.40,207.00 C468.83,202.17 469.27,197.02 469.50,193.00 C469.73,188.98 469.75,184.58 469.80,182.90 Z" fill="none" stroke="#CC0080" stroke-width="1.0" stroke-linejoin="round"/>
<line x1="467.90" y1="219.30" x2="471.70" y2="219.30" stroke="#CC0080" stroke-width="0.8" />
<line x1="465.80" y1="235.50" x2="474.50" y2="235.50" stroke="#CC0080" stroke-width="0.9" stroke-dasharray="1.2,0.9"/>
<line x1="462.60" y1="247.80" x2="477.10" y2="247.80" stroke="#E58CC0" stroke-width="1.0" />
<rect x="0" y="0" width="520" height="0.9" fill="#000"/><rect x="0" y="0" width="0.9" height="315" fill="#000"/><rect x="518.7" y="0" width="1.3" height="315" fill="#000"/><rect x="0" y="313.6" width="520" height="1.4" fill="#000"/>
</svg>
</body></html>
